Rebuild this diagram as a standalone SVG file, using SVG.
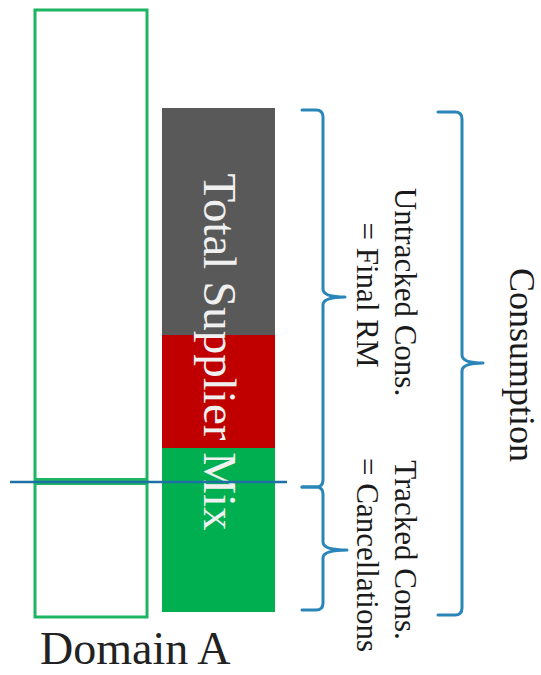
<svg xmlns="http://www.w3.org/2000/svg" width="541" height="675" viewBox="0 0 541 675">
<style>
.serif{font-family:"Liberation Serif","Times New Roman",serif;}
.brace{fill:none;stroke:#2A86B8;stroke-width:3;stroke-linecap:round;stroke-linejoin:round;}
.lbl{font-size:31px;fill:#1a1a1a;text-anchor:middle;}
</style>
<rect x="0" y="0" width="541" height="675" fill="#ffffff"/>
<g id="domainA">
<rect x="35" y="10" width="112" height="607" fill="none" stroke="#1DB462" stroke-width="3"/>
<rect x="35" y="478" width="112" height="7" fill="#1DB462"/>
<text class="serif" x="40" y="664" font-size="46" fill="#222222">Domain A</text>
</g>
<g id="supplierMix">
<rect x="162" y="108" width="113" height="227" fill="#595959"/>
<rect x="162" y="335" width="113" height="113" fill="#C00000"/>
<rect x="162" y="448" width="113" height="164" fill="#00B050"/>
<text class="serif" transform="translate(204,352) rotate(90)" x="0" y="0" font-size="47" fill="#f0f0f0" text-anchor="middle">Total Supplier Mix</text>
</g>
<g id="connectors">
<line x1="10" y1="482" x2="287" y2="482" stroke="#1D6FA5" stroke-width="2.5"/>
<path class="brace" d="M302,110 L316,110 Q323,110 323,117 L323,289 Q323,297 345,297 Q323,297 323,305 L323,480 Q323,487 316,487 L302,487"/>
<path class="brace" d="M302,487 L316,487 Q323,487 323,494 L323,542 Q323,550 347,550 Q323,550 323,558 L323,603 Q323,610 316,610 L302,610"/>
<path class="brace" d="M438,112 L455,112 Q462,112 462,119 L462,355 Q462,363 483,363 Q462,363 462,371 L462,608 Q462,615 455,615 L438,615"/>
</g>
<g id="untracked">
<text class="serif lbl" transform="translate(395,292) rotate(90)">Untracked Cons.</text>
<text class="serif lbl" transform="translate(357,295) rotate(90)">= Final RM</text>
</g>
<g id="tracked">
<text class="serif lbl" transform="translate(395,550) rotate(90)">Tracked Cons.</text>
<text class="serif lbl" transform="translate(357,555) rotate(90)">= Cancellations</text>
</g>
<g id="consumption">
<text class="serif" transform="translate(510,365) rotate(90)" font-size="36" fill="#1a1a1a" text-anchor="middle">Consumption</text>
</g>
</svg>
